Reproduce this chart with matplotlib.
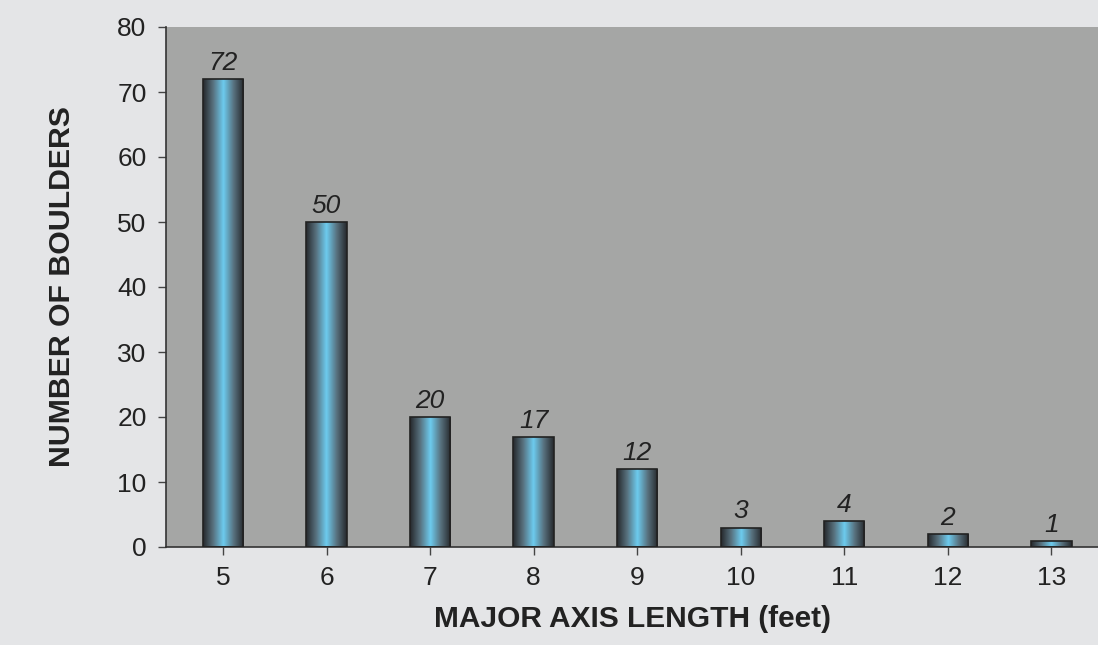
import numpy as np
import matplotlib
matplotlib.use("Agg")
import matplotlib.pyplot as plt
from matplotlib.colors import LinearSegmentedColormap

plt.rcParams['font.family'] = ['Liberation Sans', 'DejaVu Sans']

lengths = [5, 6, 7, 8, 9, 10, 11, 12, 13]
counts = [72, 50, 20, 17, 12, 3, 4, 2, 1]

fig = plt.figure(figsize=(10.98, 6.45), dpi=100, facecolor='#e4e5e7')
ax = fig.add_axes([166 / 1098, 1 - 547 / 645, (1098 - 166) / 1098, (547 - 27) / 645])
ax.set_facecolor('#a5a6a5')

bar_w = 0.39
cmap = LinearSegmentedColormap.from_list(
    'cyl', ['#26282c', '#58727f', '#6dcbee', '#58727f', '#26282c'])
grad = np.linspace(0, 1, 256).reshape(1, -1)

bars = ax.bar(lengths, counts, width=bar_w, color='none',
              edgecolor='#222222', linewidth=1.2, zorder=3)
for rect, val in zip(bars, counts):
    x0 = rect.get_x()
    im = ax.imshow(grad, cmap=cmap, aspect='auto',
                   extent=[x0, x0 + bar_w, 0, val], zorder=2,
                   interpolation='bilinear')
    im.set_clip_path(rect)
    ax.annotate(str(val), (rect.get_x() + bar_w / 2, val),
                xytext=(0, 9), textcoords='offset pixels',
                ha='center', va='baseline', fontsize=19, style='italic',
                color='#222222')

ax.set_xlim(4.45, 13.45)
ax.set_ylim(0, 80)

ax.set_xticks(lengths)
ax.set_yticks(range(0, 81, 10))
ax.tick_params(axis='both', labelsize=19, labelcolor='#222222',
               color='#444444', length=6, width=1, direction='out')
ax.tick_params(axis='x', pad=8)
ax.tick_params(axis='y', pad=8)

for side in ['top', 'right']:
    ax.spines[side].set_visible(False)
for side in ['left', 'bottom']:
    ax.spines[side].set_color('#333333')
    ax.spines[side].set_linewidth(1.2)

ax.set_xlabel('MAJOR AXIS LENGTH (feet)', fontsize=21.5, fontweight='bold',
              color='#222222', va='center')
ax.set_ylabel('NUMBER OF BOULDERS', fontsize=21.8, fontweight='bold',
              color='#222222', va='center')
ax.xaxis.set_label_coords(0.5, (547 - 619) / 520)
ax.yaxis.set_label_coords((62 - 166) / 932, 0.5)

fig.savefig('out.png', dpi=100, facecolor=fig.get_facecolor())
